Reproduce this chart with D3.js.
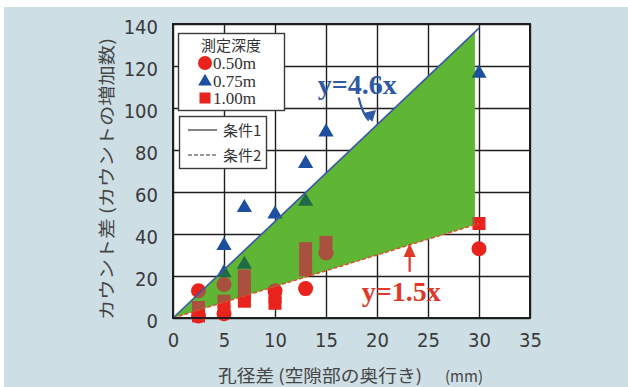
<!DOCTYPE html>
<html>
<head>
<meta charset="utf-8">
<script src="https://cdn.jsdelivr.net/npm/d3@7"></script>
<style>
  html, body { margin: 0; padding: 0; background: #fff; }
  svg { display: block; }
  .tick text { font-family: "Liberation Sans Narrow", "DejaVu Sans Condensed", sans-serif; font-size: 20px; fill: #3a3a3a; }
</style>
</head>
<body>
<svg class="chart" width="628" height="387"></svg>
<script>
// ---- data ----
var xTicks = [0, 5, 10, 15, 20, 25, 30, 35];
var yTicks = [0, 20, 40, 60, 80, 100, 120, 140];

// depth 0.50m (circles)
var depth050 = [[2.5, 13], [2.5, 1], [5, 2], [5, 16], [10, 13], [13, 14], [15, 31], [30, 33]];
// depth 0.75m (triangles)
var depth075 = [[5, 35], [5, 22], [7, 53], [7, 26], [10, 50], [13, 74], [13, 56], [15, 89], [30, 117]];
// depth 1.00m (squares)
var depth100 = [[2.5, 1], [2.5, 5], [5, 3], [5, 8], [7, 8], [7, 12], [7, 16], [7, 20],
                [10, 7], [10, 10], [13, 23], [13, 28], [13, 33], [15, 36], [30, 45]];

var slopeUpper = 4.6;   // 条件1
var slopeLower = 1.5;   // 条件2
var lineRange = [0, 30];
var fillRange = [0, 29.6];

(function drawChart() {
    var svg = d3.select("svg.chart");
    var plot = {left: 173, right: 530, top: 24, bottom: 318};
    var red = "#e8231d", blue = "#1c4f9f", green = "#5fb534";
    var redIn = "#a9503f", blueIn = "#1f6b48";

    // page background
    svg.append("rect").attr("width", 628).attr("height", 387).attr("fill", "#fff");
    svg.append("rect").attr("x", 4).attr("y", 7).attr("width", 624).attr("height", 380).attr("fill", "#cddee5");

    var x = d3.scaleLinear().domain([0, 35]).range([plot.left, plot.right]);
    var y = d3.scaleLinear().domain([0, 140]).range([plot.bottom, plot.top]);
    var h = plot.bottom - plot.top, w = plot.right - plot.left;

    svg.append("rect").attr("x", plot.left).attr("y", plot.top)
        .attr("width", w).attr("height", h).attr("fill", "#fff");

    // grid + axes
    var gx = svg.append("g").attr("transform", "translate(0," + plot.bottom + ")")
        .call(d3.axisBottom(x).tickValues(xTicks).tickSizeInner(-h).tickSizeOuter(0).tickPadding(15));
    var gy = svg.append("g").attr("transform", "translate(" + plot.left + ",0)")
        .call(d3.axisLeft(y).tickValues(yTicks).tickSizeInner(-w).tickSizeOuter(0).tickPadding(15));
    [gx, gy].forEach(function(g) {
        g.select(".domain").remove();
        g.selectAll(".tick line").attr("stroke", "#1e1e1e").attr("stroke-width", 1.4);
    });
    gy.selectAll(".tick text").attr("dy", "0.45em");

    function drawPoints(layer, useInside) {
        layer.selectAll("circle.c").data(depth050).enter().append("circle")
            .attr("cx", function(d) { return x(d[0]); })
            .attr("cy", function(d) { return y(d[1]); })
            .attr("r", 7.5)
            .attr("fill", useInside ? redIn : red);
        layer.selectAll("rect.s").data(depth100).enter().append("rect")
            .attr("x", function(d) { return x(d[0]) - 6.5; })
            .attr("y", function(d) { return y(d[1]) - 6.5; })
            .attr("width", 13).attr("height", 13)
            .attr("fill", useInside ? redIn : red);
        layer.selectAll("path.t").data(depth075).enter().append("path")
            .attr("d", d3.symbol(d3.symbolTriangle, 100))
            .attr("transform", function(d) { return "translate(" + x(d[0]) + "," + (y(d[1]) + 1) + ")"; })
            .attr("fill", useInside ? blueIn : blue);
    }

    drawPoints(svg.append("g"), false);

    // green band between the two conditions
    var band = d3.area()
        .x(function(d) { return x(d); })
        .y0(function(d) { return y(slopeLower * d); })
        .y1(function(d) { return y(slopeUpper * d); });

    svg.append("clipPath").attr("id", "bandClip")
        .append("path").datum(fillRange).attr("d", band);
    svg.append("path").datum(fillRange).attr("d", band).attr("fill", green);

    // points seen through the band
    drawPoints(svg.append("g").attr("clip-path", "url(#bandClip)"), true);

    var line = function(k) {
        return d3.line().x(function(d) { return x(d); }).y(function(d) { return y(k * d); });
    };
    svg.append("path").datum(lineRange).attr("d", line(slopeUpper))
        .attr("fill", "none").attr("stroke", "#3a58a6").attr("stroke-width", 1.6);
    svg.append("path").datum(lineRange).attr("d", line(slopeLower))
        .attr("fill", "none").attr("stroke", "#d8502c").attr("stroke-width", 1.4)
        .attr("stroke-dasharray", "4,2");

    // plot frame
    svg.append("rect").attr("x", plot.left).attr("y", plot.top)
        .attr("width", w).attr("height", h)
        .attr("fill", "none").attr("stroke", "#1e1e1e").attr("stroke-width", 2);

    // annotations
    var serif = "'Liberation Serif', 'DejaVu Serif', serif";
    svg.append("text").attr("x", x(14.2)).attr("y", y(106.5))
        .attr("font-family", serif).attr("font-weight", "bold").attr("font-size", 28)
        .attr("fill", "#2f5aa3").text("y=4.6x");
    svg.append("path")
        .attr("d", "M" + x(18.2) + "," + y(105) + " Q" + x(18.6) + "," + y(97) + " " + x(19.2) + "," + y(94))
        .attr("fill", "none").attr("stroke", "#2f5aa3").attr("stroke-width", 2.2);
    svg.append("path")
        .attr("d", "M" + x(19.55) + "," + y(93.5) + " L" + x(18.6) + "," + y(97.5) + " L" + x(19.9) + "," + y(99) + "Z")
        .attr("fill", "#2f5aa3");

    svg.append("text").attr("x", x(18.5)).attr("y", y(8))
        .attr("font-family", serif).attr("font-weight", "bold").attr("font-size", 28)
        .attr("fill", "#e0392a").text("y=1.5x");
    svg.append("line")
        .attr("x1", x(23.2)).attr("x2", x(23.2)).attr("y1", y(22)).attr("y2", y(30))
        .attr("stroke", "#e0392a").attr("stroke-width", 2.2);
    svg.append("path")
        .attr("d", "M" + x(23.2) + "," + y(35.5) + " L" + x(22.6) + "," + y(29) + " L" + x(23.8) + "," + y(29) + "Z")
        .attr("fill", "#e0392a");

    // legend: measurement depth
    var jp = "'Noto Sans CJK JP', sans-serif";
    svg.append("rect").attr("x", 178.5).attr("y", 33.5).attr("width", 106).attr("height", 77)
        .attr("fill", "#fff").attr("stroke", "#3a3a3a").attr("stroke-width", 1.4);
    svg.append("text").attr("x", 231).attr("y", 51).attr("text-anchor", "middle")
        .attr("font-family", jp).attr("font-size", 15).attr("fill", "#333").text("測定深度");
    var legendRows = [["0.50m", "circle"], ["0.75m", "triangle"], ["1.00m", "square"]];
    legendRows.forEach(function(r, i) {
        var cy = 63 + i * 17.5;
        if (r[1] === "circle") {
            svg.append("circle").attr("cx", 205).attr("cy", cy).attr("r", 7).attr("fill", red);
        } else if (r[1] === "triangle") {
            svg.append("path").attr("d", d3.symbol(d3.symbolTriangle, 80))
                .attr("transform", "translate(205," + (cy + 1) + ")").attr("fill", blue);
        } else {
            svg.append("rect").attr("x", 199.5).attr("y", cy - 5.5).attr("width", 11).attr("height", 11).attr("fill", red);
        }
        svg.append("text").attr("x", 213).attr("y", cy + 6)
            .attr("font-family", serif).attr("font-size", 17).attr("fill", "#333").text(r[0]);
    });

    // legend: conditions
    svg.append("rect").attr("x", 179.5).attr("y", 116.5).attr("width", 87).attr("height", 52)
        .attr("fill", "#fff").attr("stroke", "#3a3a3a").attr("stroke-width", 1.4);
    [["条件1", null], ["条件2", "4,2"]].forEach(function(r, i) {
        var cy = 130 + i * 25;
        svg.append("line").attr("x1", 188).attr("x2", 217).attr("y1", cy).attr("y2", cy)
            .attr("stroke", "#333").attr("stroke-width", 1.2).attr("stroke-dasharray", r[1]);
        svg.append("text").attr("x", 223).attr("y", cy + 5.5)
            .attr("font-family", jp).attr("font-size", 15).attr("fill", "#333").text(r[0]);
    });

    // axis titles
    svg.append("text").attr("x", 218).attr("y", 382)
        .attr("font-family", jp).attr("font-size", 17).attr("fill", "#444")
        .attr("textLength", 204).attr("lengthAdjust", "spacingAndGlyphs")
        .text("孔径差 (空隙部の奥行き)");
    svg.append("text").attr("x", 445).attr("y", 382)
        .attr("font-family", jp).attr("font-size", 15).attr("fill", "#444")
        .attr("textLength", 38).attr("lengthAdjust", "spacingAndGlyphs")
        .text("(mm)");
    svg.append("text")
        .attr("transform", "translate(113," + 179 + ") rotate(-90)")
        .attr("text-anchor", "middle")
        .attr("font-family", jp).attr("font-size", 17).attr("fill", "#444")
        .attr("textLength", 282).attr("lengthAdjust", "spacingAndGlyphs")
        .text("カウント差 (カウントの増加数)");
})();
</script>
</body>
</html>
